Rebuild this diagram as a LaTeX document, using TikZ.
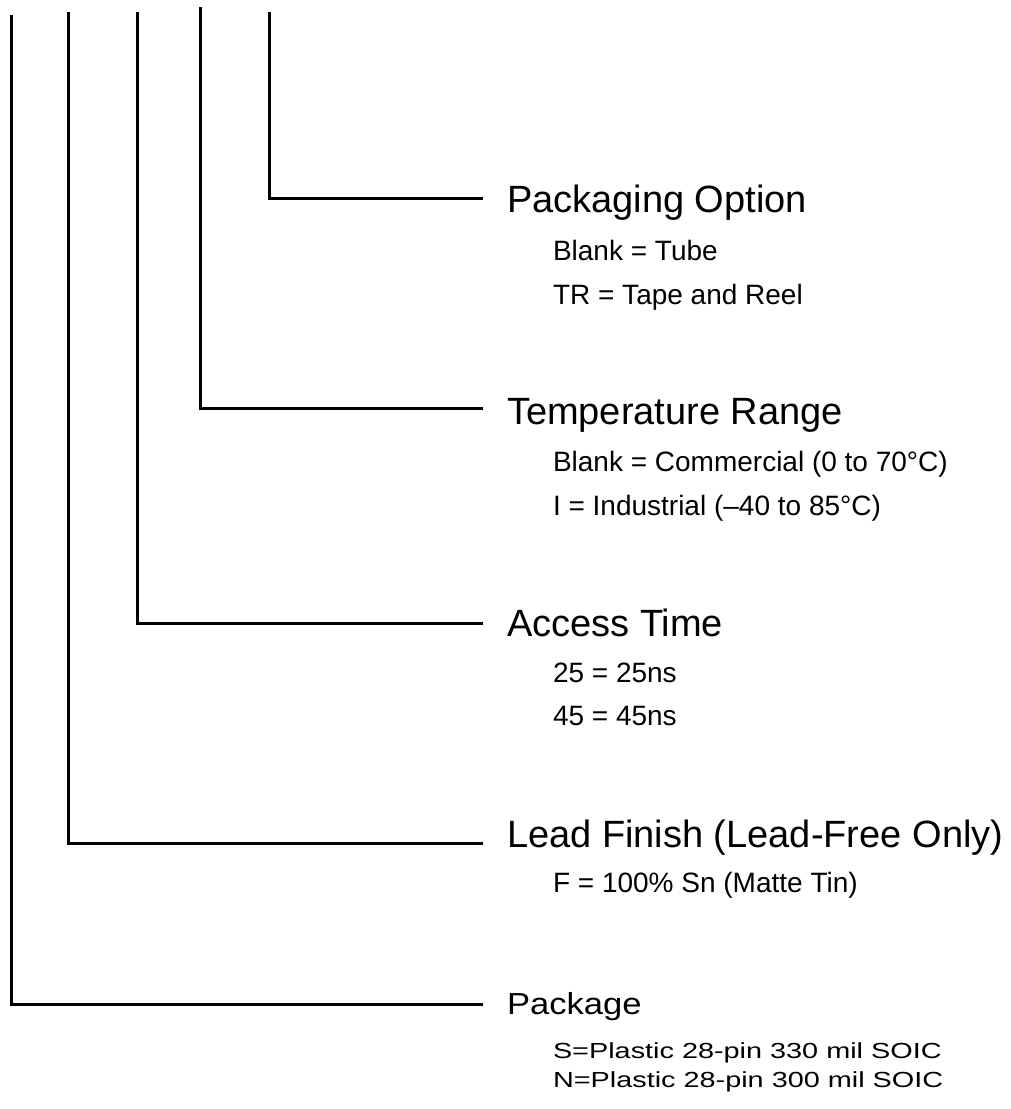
\documentclass[tikz,border=0pt]{standalone}
\usepackage{fontspec}
\setmainfont{Liberation Sans}
\newcommand\ttlfont{\fontsize{28.5pt}{30pt}\selectfont}
\newcommand\subfnt{\fontsize{21pt}{23pt}\selectfont}
\begin{document}
\begin{tikzpicture}[x=0.75pt,y=-0.75pt,
  conn/.style={line width=2.25pt, line join=miter},
  ttl/.style={font=\ttlfont, anchor=base west, inner sep=0pt, outer sep=0pt},
  opt/.style={font=\subfnt, anchor=base west, inner sep=0pt, outer sep=0pt}]
\useasboundingbox (0,0) rectangle (1010,1109);
% titles and options
\node[ttl] (pko) at (507,213) {Packaging Option};
\node[opt] (pko1) at (553,260) {Blank = Tube};
\node[opt] (pko2) at (553,304) {TR = Tape and Reel};
\node[ttl] (tmp) at (507,424) {Temperature Range};
\node[opt] (tmp1) at (553,471) {Blank = Commercial (0 to 70°C)};
\node[opt] (tmp2) at (553,515) {I = Industrial (–40 to 85°C)};
\node[ttl] (acc) at (507,636) {Access Time};
\node[opt] (acc1) at (553,682) {25 = 25ns};
\node[opt] (acc2) at (553,725) {45 = 45ns};
\node[ttl] (lead) at (507,847) {Lead Finish (Lead-Free Only)};
\node[opt] (lead1) at (553,892) {F = 100\% Sn (Matte Tin)};
\node[ttl] (pkg) at (507,1014) {\scalebox{0.91}[0.8]{Package}};
\node[opt] (pkg1) at (553,1058) {\scalebox{1.03}[0.78]{S=Plastic 28-pin 330 mil SOIC}};
\node[opt] (pkg2) at (553,1087) {\scalebox{1.03}[0.78]{N=Plastic 28-pin 300 mil SOIC}};
% connector ends
\coordinate (t1) at (269,12);  \coordinate (e1) at (483,199);
\coordinate (t2) at (200,7);   \coordinate (e2) at (483,408);
\coordinate (t3) at (137,12);  \coordinate (e3) at (483,623);
\coordinate (t4) at (68,12);   \coordinate (e4) at (483,843);
\coordinate (t5) at (11,15);   \coordinate (e5) at (483,1004);
\draw[conn] (t1) |- (e1);
\draw[conn] (t2) |- (e2);
\draw[conn] (t3) |- (e3);
\draw[conn] (t4) |- (e4);
\draw[conn] (t5) |- (e5);
\end{tikzpicture}
\end{document}
